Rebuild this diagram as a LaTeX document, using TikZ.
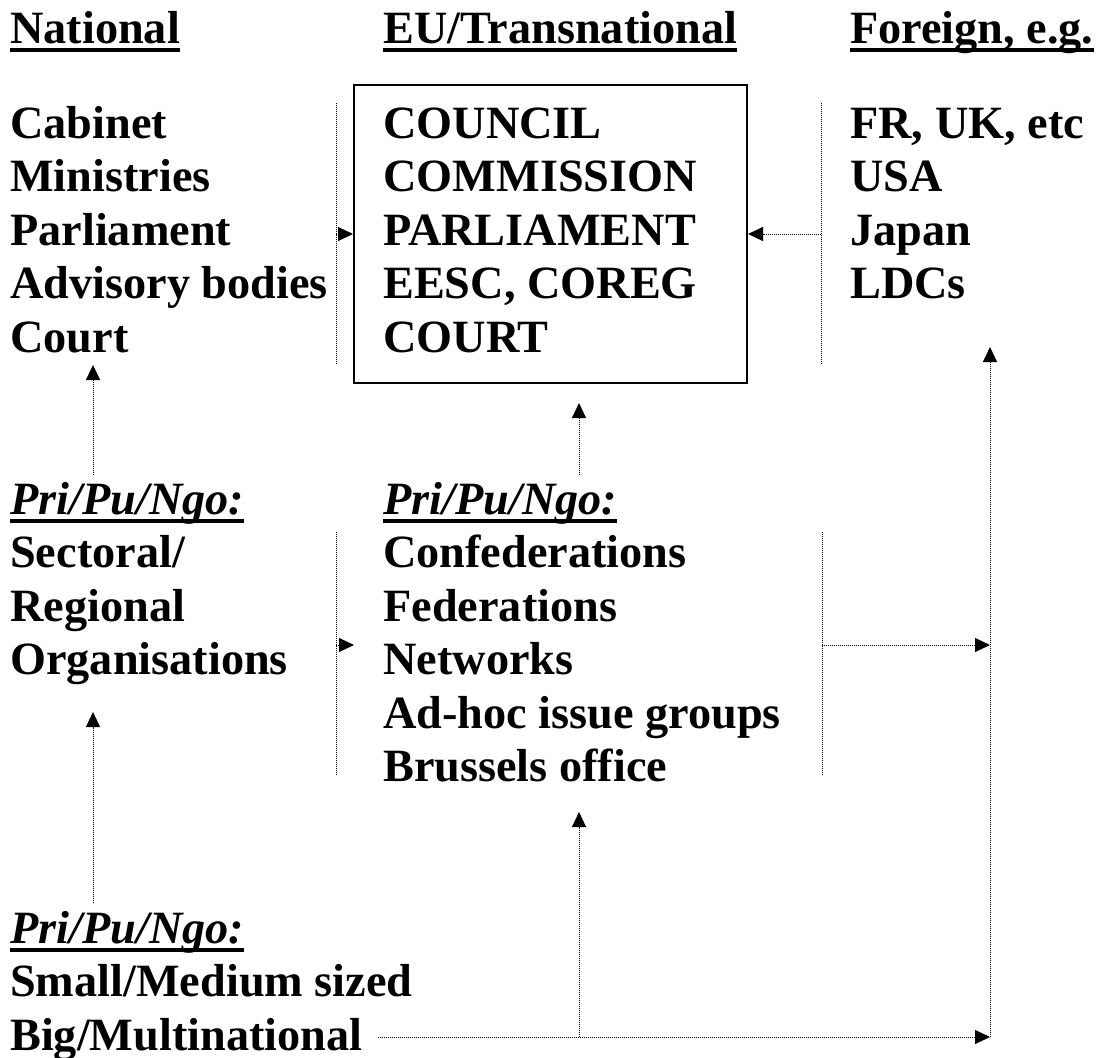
\documentclass[tikz,border=0pt]{standalone}
\usepackage{fontspec}
\setmainfont{Liberation Serif}
\usepackage{tikz}
\usetikzlibrary{arrows.meta}
\usetikzlibrary{positioning}
\newlength{\unitpx}
\setlength{\unitpx}{0.75pt}
\newcommand{\ulhead}[1]{\setbox0\hbox{#1}\rlap{\rule[-7pt]{\wd0}{3.5pt}}\box0}
\tikzset{>={Triangle[length=11.25pt, width=10.5pt]}}
\tikzset{col-text/.style={anchor=base west, inner sep=0, font=\fontsize{34.7pt}{40pt}\selectfont\bfseries}}
\tikzset{pp-head/.style={col-text, font=\fontsize{34.7pt}{40pt}\selectfont\bfseries\itshape}}
\tikzset{sep-line/.style={line width=1\unitpx, dash pattern=on 1\unitpx off 1\unitpx}}
\tikzset{flow-arrow/.style={sep-line, ->}}
\tikzset{eu-box/.style={draw, line width=2\unitpx, minimum width=393\unitpx, minimum height=298\unitpx, inner sep=0}}
\begin{document}
\begin{tikzpicture}[x=\unitpx, y=-1\unitpx]
    \useasboundingbox (0,0) rectangle (1101,1058);

    % column heads
    \node[col-text] (head-nat) at (10,43) {\ulhead{National}};
    \node[col-text] (head-eu) at (383,43) {\ulhead{EU/Transnational}};
    \node[col-text] (head-for) at (850,43) {\ulhead{Foreign, e.g.}};

    % institutions
    \foreach \t [count=\i] in {Cabinet, Ministries, Parliament, Advisory bodies, Court}
        \node[col-text] (nat\i) at (10,84.5+53.5*\i) {\t};
    \node[eu-box] (eu) at (550.5,234) {};
    \foreach \t [count=\i] in {COUNCIL, COMMISSION, PARLIAMENT, {EESC, COREG}, COURT}
        \node[col-text] (eu\i) at (383,84.5+53.5*\i) {\t};
    \foreach \t [count=\i] in {{FR, UK, etc}, USA, Japan, LDCs}
        \node[col-text] (for\i) at (850,84.5+53.5*\i) {\t};

    % interest groups
    \node[pp-head] (natpp) at (10,514) {\ulhead{Pri/Pu/Ngo:}};
    \foreach \t [count=\i] in {Sectoral/, Regional, Organisations}
        \node[col-text] (natorg\i) at (10,514+53.5*\i) {\t};
    \node[pp-head] (eupp) at (383,514) {\ulhead{Pri/Pu/Ngo:}};
    \foreach \t [count=\i] in {Confederations, Federations, Networks, Ad-hoc issue groups, Brussels office}
        \node[col-text] (euorg\i) at (383,514+53.5*\i) {\t};

    % firms
    \node[pp-head] (firmpp) at (10,943) {\ulhead{Pri/Pu/Ngo:}};
    \foreach \t [count=\i] in {Small/Medium sized, Big/Multinational}
        \node[col-text] (firm\i) at (10,943+53.5*\i) {\t};

    % separators
    \draw[sep-line] (336,103) -- (336,365);
    \draw[sep-line] (821,103) -- (821,365);
    \draw[sep-line] (336,532) -- (336,775);
    \draw[sep-line] (822,532) -- (822,775);

    \coordinate (nat-sep) at (336,234);
    \coordinate (for-sep) at (821,234);
    \coordinate (natorg-sep) at (336,645);
    \coordinate (euorg-in) at (354,645);
    \coordinate (euorg-sep) at (822,645);
    \coordinate (for-line) at (990,645);
    \coordinate (natpp-top) at (93,475);
    \coordinate (nat-low) at (93,365);
    \coordinate (eupp-top) at (579,475);
    \coordinate (eu-low) at (579,403);
    \coordinate (firmpp-top) at (93,903);
    \coordinate (natorg-low) at (93,712);
    \coordinate (firm-out) at (378,1037);
    \coordinate (firm-branch) at (579,1037);
    \coordinate (euorg-low) at (579,812);
    \coordinate (for-corner) at (990,1037);
    \coordinate (for-low) at (990,347);

    % flows
    \draw[flow-arrow] (nat-sep) -- (eu.west);
    \draw[flow-arrow] (for-sep) -- (eu.east);
    \draw[flow-arrow] (natpp-top) -- (nat-low);
    \draw[flow-arrow] (eupp-top) -- (eu-low);
    \draw[flow-arrow] (natorg-sep) -- (euorg-in);
    \draw[flow-arrow] (euorg-sep) -- (for-line);
    \draw[flow-arrow] (firmpp-top) -- (natorg-low);
    \draw[flow-arrow] (firm-out) -- (for-corner);
    \draw[flow-arrow] (firm-branch) -- (euorg-low);
    \draw[flow-arrow] (for-corner) -- (for-low);
\end{tikzpicture}
\end{document}
